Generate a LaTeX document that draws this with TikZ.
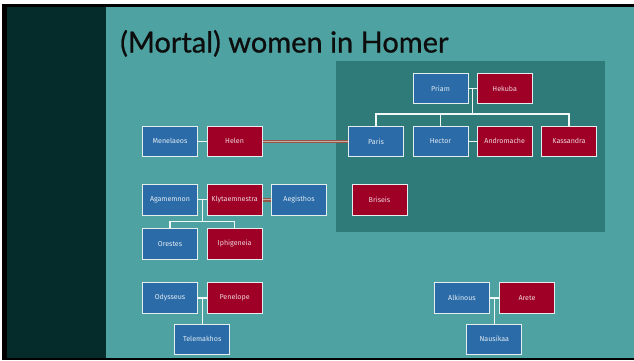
\documentclass[tikz,border=0pt]{standalone}
\usepackage{fontspec}
\setmainfont{Lato}
\newfontfamily\titlefont[FakeBold=0.8]{Lato}
\newfontfamily\boxfont{Fira Sans}
\usetikzlibrary{calc}
\definecolor{mainteal}{HTML}{4EA3A2}
\definecolor{darkpanel}{HTML}{062B2B}
\definecolor{troybg}{HTML}{2F7B79}
\definecolor{maleblue}{HTML}{2B6CA8}
\definecolor{femred}{HTML}{9E0026}
\definecolor{boxedge}{HTML}{E4EEEE}
\definecolor{lovebrown}{HTML}{985444}
\definecolor{lovemid}{HTML}{C4ACA4}
\tikzset{
  person/.style={draw=boxedge, line width=0.9pt, minimum width=55pt, minimum height=30.5pt,
    inner sep=0pt, font=\boxfont\fontsize{7.1}{8.5}\selectfont},
  male/.style={person, fill=maleblue, text=white!86!maleblue},
  female/.style={person, fill=femred, text=white!84!femred},
  tie/.style={draw=white!92!mainteal, line width=1.2pt},
  affair/.style={draw=lovebrown, line width=3.6pt, postaction={draw=lovemid, line width=1.2pt}},
}
\begin{document}
\begin{tikzpicture}[x=1pt,y=-1pt]
\useasboundingbox (0,0) rectangle (634,360);
\fill[white] (0,0) rectangle (634,360);
\fill[black] (2,3.5) rectangle (634,359.5);
\fill[darkpanel] (6.5,6.5) rectangle (106,357.5);
\fill[mainteal] (106,6.5) rectangle (634,357.5);
\node[anchor=base west, inner sep=0pt, font=\titlefont\fontsize{29}{34}\selectfont, text=black!95] (title) at (120,52.5) {(Mortal) women in Homer};
\fill[troybg] (336,61) rectangle (605,232);

% Troy
\node[male]   (priam)      at (440.5,88.5) {Priam};
\node[female] (hekuba)     at (504.7,88.5) {Hekuba};
\node[male]   (paris)      at (376,141.3) {Paris};
\node[male]   (hector)     at (440.5,141.3) {Hector};
\node[female] (andromache) at (504.7,141.3) {Andromache};
\node[female] (kassandra)  at (569,141.3) {Kassandra};
\node[female] (briseis)    at (379.5,199.8) {Briseis};

% Sparta
\node[male]   (menelaeos)  at (170,141.3) {Menelaeos};
\node[female] (helen)      at (234.6,141.3) {Helen};

% Mycenae
\node[male]   (agamemnon)  at (170,199.8) {Agamemnon};
\node[female] (klyt)       at (234.6,199.8) {Klytaemnestra};
\node[male]   (aegisthos)  at (299,199.8) {Aegisthos};
\node[male]   (orestes)    at (170,243.8) {Orestes};
\node[female] (iphigeneia) at (234.6,243.8) {Iphigeneia};

% Ithaca
\node[male]   (odysseus)   at (170,298) {Odysseus};
\node[female] (penelope)   at (234.6,298) {Penelope};
\node[male]   (telemakhos) at (202.2,339.2) {Telemakhos};

% Phaeacia
\node[male]   (alkinous)   at (462,298) {Alkinous};
\node[female] (arete)      at (527,298) {Arete};
\node[male]   (nausikaa)   at (494.3,339.2) {Nausikaa};

% Connectors
\coordinate (troybus) at (472.5,114);
\coordinate (pj) at ($(priam.east)!0.5!(hekuba.west)$);
\draw[tie] (priam.east) -- (hekuba.west);
\draw[tie] (pj) -- (pj |- troybus);
\draw[tie] (paris.north) -- (paris.north |- troybus) -- (kassandra.north |- troybus) -- (kassandra.north);
\draw[tie] (hector.north) -- (hector.north |- troybus);
\draw[tie] (hector.east) -- (andromache.west);

\draw[tie] (menelaeos.east) -- (helen.west);
\draw[affair] (helen.east) -- (paris.west);

\coordinate (mycbus) at (202.2,221.3);
\coordinate (mj) at ($(agamemnon.east)!0.5!(klyt.west)$);
\draw[tie] (agamemnon.east) -- (klyt.west);
\draw[tie] (mj) -- (mj |- mycbus);
\draw[tie] (orestes.north) -- (orestes.north |- mycbus) -- (iphigeneia.north |- mycbus) -- (iphigeneia.north);
\draw[affair] (klyt.east) -- (aegisthos.west);

\coordinate (oj) at ($(odysseus.east)!0.5!(penelope.west)$);
\draw[tie] (odysseus.east) -- (penelope.west);
\draw[tie] (oj) -- (oj |- telemakhos.north);

\coordinate (aj) at ($(alkinous.east)!0.5!(arete.west)$);
\draw[tie] (alkinous.east) -- (arete.west);
\draw[tie] (aj) -- (aj |- nausikaa.north);
\end{tikzpicture}
\end{document}
